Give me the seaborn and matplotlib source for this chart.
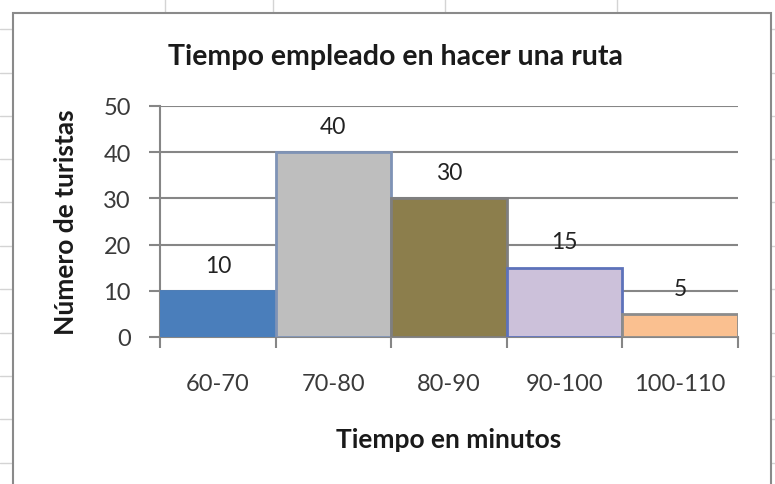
import matplotlib
matplotlib.use("Agg")
import matplotlib.pyplot as plt
from matplotlib.patches import Rectangle
from matplotlib.lines import Line2D
import seaborn as sns
import pandas as pd

categories = ["60-70", "70-80", "80-90", "90-100", "100-110"]
values = [10, 40, 30, 15, 5]
fill_colors = ["#4A7EBB", "#BEBEBE", "#8C7E4C", "#CCC1DA", "#FAC090"]
edge_colors = ["#4A7EBB", "#7F93B6", "#7F7F7F", "#5D72BA", "#8C8C8C"]
title = "Tiempo empleado en hacer una ruta"
xlabel = "Tiempo en minutos"
ylabel = "Número de turistas"
yticks = [0, 10, 20, 30, 40, 50]

sns.set_theme(style="white")
plt.rcParams["font.family"] = ["Lato", "DejaVu Sans"]

W, H = 775, 485
fig = plt.figure(figsize=(W / 100, H / 100), dpi=100)
fig.patch.set_facecolor("white")

def fx(px):
    return px / W

def fy(py):
    return 1 - py / H

# spreadsheet background grid
grid_c = "#D4D4D4"
for x in [165, 273, 445, 617]:
    fig.add_artist(Line2D([fx(x), fx(x)], [fy(0), fy(14)], color=grid_c, lw=1, zorder=-3))
for y in [30, 74, 117, 160, 203, 247, 290, 334, 377, 420, 464]:
    fig.add_artist(Line2D([fx(0), fx(13)], [fy(y), fy(y)], color=grid_c, lw=1, zorder=-3))
    fig.add_artist(Line2D([fx(771), fx(775)], [fy(y), fy(y)], color=grid_c, lw=1, zorder=-3))
# chart area
fig.add_artist(Rectangle((fx(13), fy(492)), fx(771) - fx(13), fy(14) - fy(492),
                         facecolor="white", edgecolor="#8A8A8A", lw=1.5, zorder=-2))

left, right, top, bottom = 160, 738, 107, 338
ax = fig.add_axes([fx(left), fy(bottom), fx(right) - fx(left), fy(top) - fy(bottom)])
ax.set_facecolor("none")
ax.set_zorder(1)

df = pd.DataFrame({"cat": categories, "val": values})
sns.barplot(data=df, x="cat", y="val", hue="cat", palette=fill_colors,
            width=1.0, legend=False, ax=ax, zorder=3, saturation=1)
for p, ec in zip(ax.patches, edge_colors):
    p.set_edgecolor(ec)
    p.set_linewidth(2)

for c in ax.containers:
    ax.bar_label(c, padding=11, fontsize=16.5, color="#222222")

ax.set_xlim(-0.5, len(categories) - 0.5)
ax.set_ylim(0, 50)
ax.set_yticks(yticks)
ax.set_yticklabels([str(v) for v in yticks], fontsize=17, color="#3A3A3A")
ax.yaxis.grid(True, color="#868686", lw=1.5, zorder=0)
ax.set_axisbelow(True)

ax.set_xticks(range(len(categories)))
ax.set_xticklabels(categories, fontsize=17, color="#3A3A3A")
ax.set_xticks([i - 0.5 for i in range(len(categories) + 1)], minor=True)
ax.tick_params(axis="x", which="major", length=0, pad=26)
ax.tick_params(axis="x", which="minor", length=8, width=1.5, color="#868686", direction="out", bottom=True)
ax.tick_params(axis="y", which="major", length=8, width=1.5, color="#868686", direction="out", left=True, pad=13)

for s in ["top", "right"]:
    ax.spines[s].set_visible(False)
for s in ["left", "bottom"]:
    ax.spines[s].set_color("#868686")
    ax.spines[s].set_linewidth(1.5)

ax.set_xlabel(xlabel, fontsize=19, fontweight="bold", color="#1A1A1A", labelpad=24)
ax.set_ylabel(ylabel, fontsize=19, fontweight="bold", color="#1A1A1A", labelpad=18)
fig.text(fx(395), fy(57), title, fontsize=20.5, fontweight="bold", color="#1A1A1A",
         ha="center", va="center")

fig.savefig("out.png", dpi=100)
